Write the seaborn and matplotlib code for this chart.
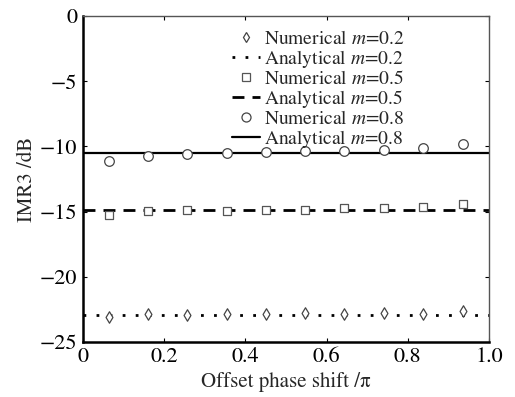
import matplotlib
matplotlib.use("Agg")
import matplotlib.pyplot as plt
import seaborn as sns
import pandas as pd

sns.set_theme(style="ticks")
plt.rcParams['font.family'] = ['STIXGeneral', 'DejaVu Serif']
plt.rcParams['mathtext.fontset'] = 'stix'

phase = [0.065, 0.160, 0.256, 0.354, 0.450, 0.548, 0.644, 0.741, 0.838, 0.935]
num_m02 = [-23.1, -22.87, -22.9, -22.87, -22.87, -22.8, -22.82, -22.8, -22.82, -22.64]
num_m05 = [-15.25, -14.95, -14.87, -14.92, -14.85, -14.87, -14.72, -14.72, -14.62, -14.4]
num_m08 = [-11.15, -10.72, -10.6, -10.5, -10.43, -10.38, -10.33, -10.26, -10.13, -9.8]

ana_x = [0.0, 1.0]
ana_m02 = [-22.9, -22.9]
ana_m05 = [-14.85, -14.85]
ana_m08 = [-10.5, -10.5]

fig = plt.figure(figsize=(5.15, 3.97), dpi=100)
ax = fig.add_axes([0.161, 0.1385, 0.7885, 0.8212])

ec = '#444444'
sc_kw = dict(facecolor='white', linewidth=0.9, legend=False, zorder=3)
dot_ls = (0, (1, 3.7))
dash_ls = (0, (4.3, 2.9))

sns.lineplot(x=ana_x, y=ana_m02, ax=ax, color='black', linewidth=2.0,
             linestyle=dot_ls, zorder=2)
sns.lineplot(x=ana_x, y=ana_m05, ax=ax, color='black', linewidth=2.0,
             linestyle=dash_ls, zorder=2)
sns.lineplot(x=ana_x, y=ana_m08, ax=ax, color='black', linewidth=1.6,
             linestyle='-', zorder=2)
sns.scatterplot(x=phase, y=num_m02, ax=ax, marker='d', s=34, edgecolor=ec, **sc_kw)
sns.scatterplot(x=phase, y=num_m05, ax=ax, marker='s', s=34, edgecolor='#555555', **sc_kw)
sns.scatterplot(x=phase, y=num_m08, ax=ax, marker='o', s=48, edgecolor=ec, **sc_kw)

from matplotlib.lines import Line2D
handles = [
    Line2D([], [], marker='d', linestyle='none', markersize=5.5, markerfacecolor='white', markeredgecolor=ec, markeredgewidth=0.9),
    Line2D([], [], color='black', linewidth=2.0, linestyle=dot_ls),
    Line2D([], [], marker='s', linestyle='none', markersize=5.5, markerfacecolor='white', markeredgecolor='#555555', markeredgewidth=0.9),
    Line2D([], [], color='black', linewidth=2.0, linestyle=dash_ls),
    Line2D([], [], marker='o', linestyle='none', markersize=6.5, markerfacecolor='white', markeredgecolor=ec, markeredgewidth=0.9),
    Line2D([], [], color='black', linewidth=1.6, linestyle='-'),
]
labels = [r'Numerical $m$=0.2', r'Analytical $m$=0.2', r'Numerical $m$=0.5',
          r'Analytical $m$=0.5', r'Numerical $m$=0.8', r'Analytical $m$=0.8']
ax.legend(handles, labels, loc='upper left', bbox_to_anchor=(0.335, 0.995),
          frameon=False, fontsize=14, handlelength=1.45, handletextpad=0.22,
          labelspacing=0.0, borderpad=0.15)

ax.set_xlim(0, 1.0)
ax.set_ylim(-25, 0)
ax.set_xticks([0, 0.2, 0.4, 0.6, 0.8, 1.0])
ax.set_xticklabels(['0', '0.2', '0.4', '0.6', '0.8', '1.0'])
ax.set_yticks([0, -5, -10, -15, -20, -25])
ax.set_yticklabels(['0', '\u22125', '\u221210', '\u221215', '\u221220', '\u221225'])
ax.tick_params(direction='in', length=3, width=0.8, labelsize=16, colors='black',
               top=True, right=True, pad=4)
ax.set_xlabel('Offset phase shift /\u03c0', fontsize=15, labelpad=3)
ax.set_ylabel('IMR3 /dB', fontsize=15, labelpad=2)

for s in ['left', 'bottom']:
    ax.spines[s].set_linewidth(1.8)
    ax.spines[s].set_color('black')
for s in ['top', 'right']:
    ax.spines[s].set_linewidth(1.0)
    ax.spines[s].set_color('#555555')

fig.savefig('out.png', dpi=100)
